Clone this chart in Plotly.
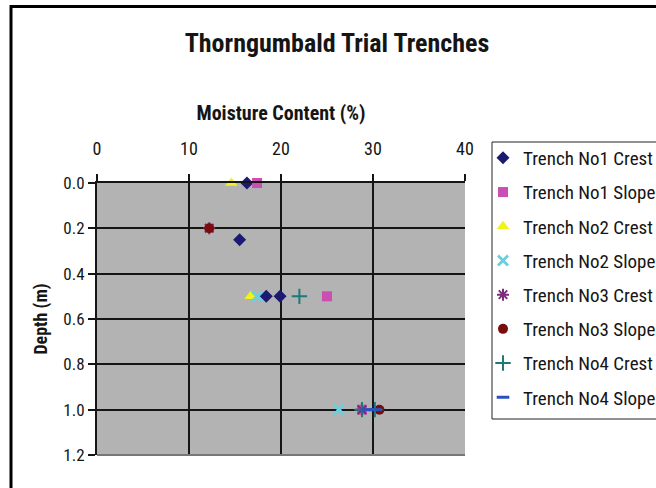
import plotly.graph_objects as go

# ---- data (moisture content %, depth m) ----
series_names = ["Trench No1 Crest", "Trench No1 Slope", "Trench No2 Crest", "Trench No2 Slope",
                "Trench No3 Crest", "Trench No3 Slope", "Trench No4 Crest", "Trench No4 Slope"]
no1_crest_x = [16.3, 15.5, 18.4, 19.9]
no1_crest_y = [0.0, 0.25, 0.5, 0.5]
no1_slope_x = [17.4, 25.0, 28.8]
no1_slope_y = [0.0, 0.5, 1.0]
no2_crest_x = [14.6, 16.7]
no2_crest_y = [0.0, 0.5]
no2_slope_x = [17.4, 26.3]
no2_slope_y = [0.5, 1.0]
no3_crest_x = [12.2, 28.8]
no3_crest_y = [0.2, 1.0]
no3_slope_x = [12.2, 30.7]
no3_slope_y = [0.2, 1.0]
no4_crest_x = [22.0, 28.8, 30.2]
no4_crest_y = [0.5, 1.0, 1.0]
no4_slope_x = [29.4, 30.2]
no4_slope_y = [1.0, 1.0]

x_ticks = [0, 10, 20, 30, 40]
y_ticks = [0.0, 0.2, 0.4, 0.6, 0.8, 1.0, 1.2]

FONT = "Roboto Condensed, Liberation Sans, Arial, sans-serif"
INK = "#151515"

styles = [
    dict(symbol="diamond", color="#1c1a70", size=10, line=dict(width=0)),
    dict(symbol="square", color="#c94fb2", size=10, line=dict(width=0)),
    dict(symbol="triangle-up", color="#f2f21a", size=11, line=dict(width=0)),
    dict(symbol="x-thin-open", color="#6dcfdc", size=10, line=dict(width=3, color="#6dcfdc")),
    dict(symbol="asterisk-open", color="#7a2d7a", size=10, line=dict(width=2, color="#7a2d7a")),
    dict(symbol="circle", color="#7a0c0c", size=10, line=dict(width=0)),
    dict(symbol="cross-thin-open", color="#1d7a78", size=11, line=dict(width=2, color="#1d7a78")),
    dict(symbol="line-ew-open", color="#2b50c0", size=9, line=dict(width=3, color="#2b50c0")),
]

xs = [no1_crest_x, no1_slope_x, no2_crest_x, no2_slope_x, no3_crest_x, no3_slope_x, no4_crest_x, no4_slope_x]
ys = [no1_crest_y, no1_slope_y, no2_crest_y, no2_slope_y, no3_crest_y, no3_slope_y, no4_crest_y, no4_slope_y]

fig = go.Figure()
for i, name in enumerate(series_names):
    fig.add_trace(go.Scatter(x=xs[i], y=ys[i], mode="markers", name=name,
                             legendgroup=name, marker=styles[i], cliponaxis=False))

W, H = 656, 488
L, R, T, B = 97, 465, 183, 455
pw, ph = R - L, B - T

def px(xp):
    return (xp - L) / pw

def py(yp):
    return (B - yp) / ph

fig.update_layout(
    width=W, height=H,
    margin=dict(l=L, r=W - R, t=T, b=H - B, pad=0, autoexpand=False),
    paper_bgcolor="white",
    plot_bgcolor="#b3b3b3",
    font=dict(family=FONT, size=17, color=INK),
    title=dict(text="<b>Thorngumbald Trial Trenches</b>", x=337 / W, xanchor="center",
               y=1 - 43 / H, yanchor="middle", font=dict(size=26, family=FONT, color=INK)),
    showlegend=True,
    legend=dict(x=px(483), y=py(139), xanchor="left", yanchor="top",
                borderwidth=0, bgcolor="rgba(0,0,0,0)",
                font=dict(size=19, family=FONT, color=INK),
                tracegroupgap=6.5, itemwidth=30, maxheight=420),
    xaxis=dict(range=[0, 40], side="top", tickvals=x_ticks, showgrid=True, gridcolor=INK,
               gridwidth=2, showline=True, linecolor=INK, linewidth=2, ticks="outside",
               ticklen=7, tickwidth=2, tickcolor=INK, zeroline=False,
               ticklabelstandoff=12, tickfont=dict(size=18),
               title=dict(text="<b>Moisture Content (%)</b>", font=dict(size=20, family=FONT), standoff=12)),
    yaxis=dict(range=[1.2, 0], tickvals=y_ticks, tickformat=".1f", showgrid=True, gridcolor=INK,
               gridwidth=2, showline=True, linecolor=INK, linewidth=2, ticks="outside",
               ticklen=7, tickwidth=2, tickcolor=INK, zeroline=False, tickfont=dict(size=17),
               title=dict(text="<b>Depth (m)</b>", font=dict(size=18, family=FONT), standoff=11)),
    shapes=[
        dict(type="rect", xref="paper", yref="paper", x0=px(11), x1=px(720), y0=py(530), y1=py(6.5),
             line=dict(color="black", width=3), fillcolor="rgba(0,0,0,0)", layer="below"),
        dict(type="rect", xref="paper", yref="paper", x0=px(492), x1=px(700), y0=py(419), y1=py(142),
             line=dict(color="#222222", width=1), fillcolor="white", layer="below"),
        dict(type="line", xref="paper", yref="paper", x0=0, x1=1, y0=0, y1=0,
             line=dict(color="#777777", width=2)),
    ],
)

fig.write_html("out.html", config={"displayModeBar": False},
               post_script="document.body.style.margin='0';document.body.style.overflow='hidden';")
